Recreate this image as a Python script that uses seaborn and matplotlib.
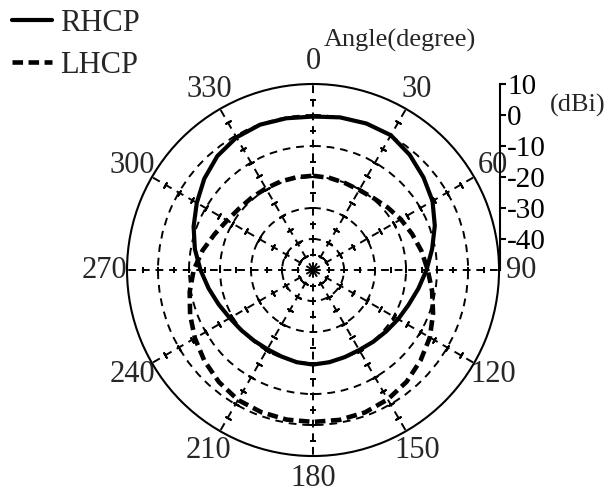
import numpy as np
import pandas as pd
import matplotlib
matplotlib.use("Agg")
import matplotlib.pyplot as plt
import seaborn as sns

# radiation pattern (dBi), every 10 degrees
angles = list(range(0, 360, 10))
rhcp = [-0.5, 0.0, 0.3, 0.2, -1.5, -3.5, -5.5, -8.2, -11.0, -13.4, -15.5, -17.2,
        -18.3, -19.2, -19.8, -20.2, -20.1, -19.8, -19.5, -19.8, -20.3, -20.5, -20.3, -19.8,
        -19.0, -17.6, -15.8, -13.7, -11.3, -9.0, -6.7, -4.2, -2.0, -0.6, -0.1, -0.3]
lhcp = [-19.6, -19.8, -20.1, -20.2, -19.7, -18.6, -17.3, -16.0, -14.5, -13.0, -11.0, -8.8,
        -6.5, -4.7, -3.0, -1.8, -1.1, -0.9, -1.0, -1.0, -1.2, -1.6, -2.8, -4.3,
        -6.0, -7.8, -9.6, -11.5, -13.8, -16.2, -18.0, -19.0, -19.4, -19.6, -19.6, -19.6]

theta_ticks = list(range(0, 360, 30))
r_grid = [-40, -30, -20, -10, 0]
r_ticks = [-40, -30, -20, -10, 0, 10]
r_min, r_max = -50, 10

sns.set_theme(style="white")
plt.rcParams["font.family"] = ["Liberation Serif", "DejaVu Serif"]

df = pd.DataFrame({
    "theta": np.deg2rad(angles + [360] + angles + [360]),
    "gain": rhcp + [rhcp[0]] + lhcp + [lhcp[0]],
    "pol": ["RHCP"] * (len(angles) + 1) + ["LHCP"] * (len(angles) + 1),
})

fig = plt.figure(figsize=(6.12, 4.93), dpi=100)
ax = fig.add_axes([0.2075, 0.075, 0.608, 0.7546], projection="polar")
ax.set_theta_zero_location("N")
ax.set_theta_direction(-1)

sns.lineplot(data=df[df.pol == "RHCP"], x="theta", y="gain", ax=ax, color="black",
             linewidth=3, sort=False, label="RHCP", zorder=3)
sns.lineplot(data=df[df.pol == "LHCP"], x="theta", y="gain", ax=ax, color="black",
             linewidth=3.3, sort=False, label="LHCP", linestyle=(0, (2.3, 1.2)), zorder=3)

ax.set_ylim(r_min, r_max)
ax.set_rgrids(r_grid, labels=[""] * len(r_grid))
ax.set_thetagrids(theta_ticks, labels=[str(t) for t in theta_ticks])
ax.tick_params(axis="x", pad=3, labelsize=22)
ax.grid(True, color="black", linestyle=(0, (4, 3)), linewidth=1.4)
ax.spines["polar"].set_linewidth(1.5)
ax.spines["polar"].set_color("black")
ax.set_xlabel("")
ax.set_ylabel("")

# little cross ticks along each radial grid line
minor_r = np.arange(-45, 10, 5)
for t in theta_ticks:
    ax.plot(np.full(len(minor_r), np.deg2rad(t)), minor_r, linestyle="none",
            marker=(2, 2, 90 - t), markersize=5, markeredgewidth=1.4,
            color="black", zorder=1)

# legend top left
handles, labels = ax.get_legend_handles_labels()
ax.get_legend().remove()
fig.legend(handles, labels, loc="upper left", bbox_to_anchor=(0.005, 1.0),
           frameon=False, fontsize=22, handlelength=1.3, handletextpad=0.26,
           labelspacing=0.42, borderaxespad=0.1, borderpad=0.2)

# radial scale on the right
rax = fig.add_axes([500 / 612, (493 - 270) / 493, 0.0001, 186 / 493])
rax.set_ylim(r_min, r_max)
rax.set_yticks(r_ticks)
rax.set_yticklabels([str(v) for v in r_ticks])
rax.set_xticks([])
for s in ["left", "top", "bottom"]:
    rax.spines[s].set_visible(False)
rax.spines["right"].set_color("black")
rax.spines["right"].set_linewidth(1.5)
rax.yaxis.tick_right()
rax.tick_params(axis="y", direction="out", length=4, width=1.5, pad=1,
                labelsize=21, colors="black")
rax.patch.set_visible(False)

fig.text(578 / 612, 1 - 105 / 493, "(dBi)", fontsize=19, ha="center", va="center")
fig.text(400 / 612, 1 - 40 / 493, "Angle(degree)", fontsize=19, ha="center", va="center")

fig.savefig("out.png", dpi=100)
